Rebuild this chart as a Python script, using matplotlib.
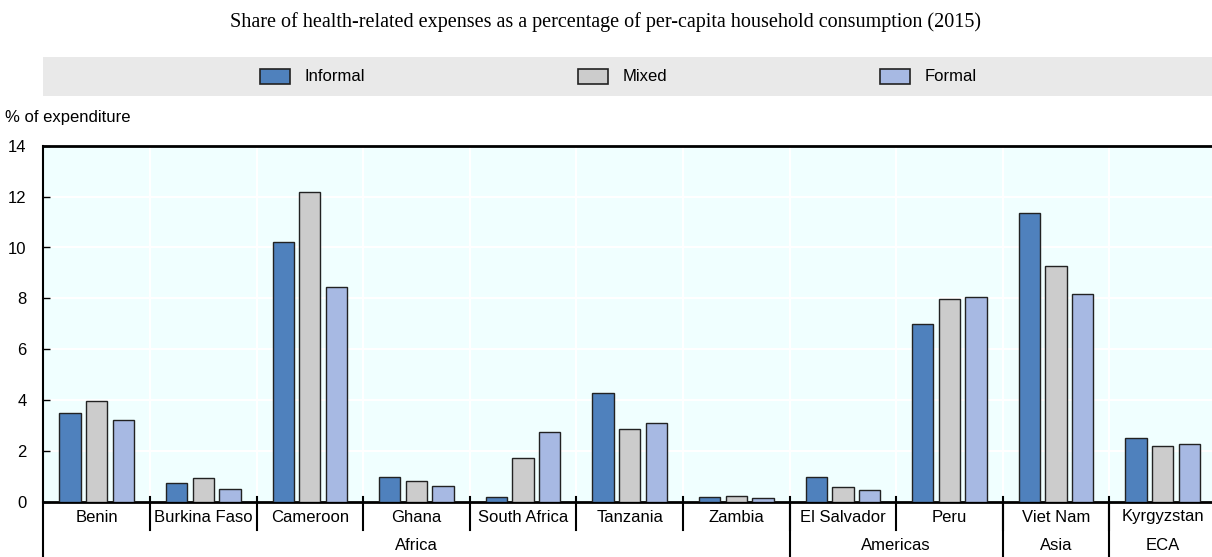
import matplotlib
matplotlib.use("Agg")
import matplotlib.pyplot as plt
from matplotlib.patches import Rectangle
from matplotlib.lines import Line2D
import numpy as np

countries = ["Benin", "Burkina Faso", "Cameroon", "Ghana", "South Africa", "Tanzania",
             "Zambia", "El Salvador", "Peru", "Viet Nam", "Kyrgyzstan"]
regions = ["Africa", "Americas", "Asia", "ECA"]
region_sizes = [7, 2, 1, 1]
informal = [3.50, 0.76, 10.20, 0.98, 0.18, 4.27, 0.20, 0.98, 7.00, 11.37, 2.50]
mixed = [3.96, 0.96, 12.18, 0.81, 1.74, 2.88, 0.22, 0.58, 7.99, 9.27, 2.21]
formal = [3.23, 0.52, 8.44, 0.62, 2.74, 3.12, 0.17, 0.47, 8.07, 8.17, 2.29]
series_names = ["Informal", "Mixed", "Formal"]
yticks = [0, 2, 4, 6, 8, 10, 12, 14]

colors = ["#4F81BD", "#CCCCCC", "#A7B9E3"]
W, H = 1212, 557
fig = plt.figure(figsize=(W / 100, H / 100), dpi=100)
plt.rcParams['font.family'] = ['Liberation Sans', 'DejaVu Sans']

ax_l, ax_r, ax_b, ax_t = 43.3, 1216, 502, 145.7
ax = fig.add_axes([ax_l / W, (H - ax_b) / H, (ax_r - ax_l) / W, (ax_b - ax_t) / H])
ax.set_facecolor("#F0FFFF")
n = len(countries)
x = np.arange(n)
bw = 0.2
for i, (vals, c) in enumerate(zip([informal, mixed, formal], colors)):
    ax.bar(x + (i - 1) * 0.25, vals, width=bw, color=c, edgecolor="#222222", linewidth=1.0, zorder=3)

ax.set_xlim(-0.5, n - 0.5)
ax.set_ylim(0, 14)
ax.set_yticks(yticks)
ax.set_yticklabels([str(t) for t in yticks], fontsize=12)
ax.tick_params(axis='y', direction='in', length=5, width=1, pad=12, color='black')
ax.set_xticks([])
for t in yticks[1:-1]:
    ax.axhline(t, color='white', lw=1.5, zorder=1)
for b in np.arange(0.5, n - 0.5, 1):
    ax.axvline(b, color='white', lw=1.5, zorder=1)
ax.spines['right'].set_visible(False)
ax.spines['top'].set_linewidth(2)
ax.spines['bottom'].set_linewidth(2)
ax.spines['left'].set_linewidth(1.5)
for s in ['top', 'bottom', 'left']:
    ax.spines[s].set_color('black')

# x-axis labels
pxh = 1.0 / (ax_b - ax_t)  # axes fraction per pixel
trans = ax.get_xaxis_transform()
for i, c in enumerate(countries):
    ax.text(i, -15 * pxh, c, ha='center', va='center', fontsize=12, transform=trans, clip_on=False)
# country separators
for b in np.arange(0.5, n - 0.5, 1):
    ax.add_line(Line2D([b, b], [5 * pxh, -28 * pxh], transform=trans, color='black', lw=1.5, clip_on=False))
# region labels and separators
start = 0
bounds = [-0.5]
for r, sz in zip(regions, region_sizes):
    center = start + (sz - 1) / 2
    ax.text(center, -43 * pxh, r, ha='center', va='center', fontsize=12, transform=trans, clip_on=False)
    start += sz
    bounds.append(start - 0.5)
for b in bounds[:-1]:
    ax.add_line(Line2D([b, b], [0, -60 * pxh], transform=trans, color='black', lw=1.5, clip_on=False))

# y-axis label
fig.text(5 / W, 1 - 118 / H, "% of expenditure", fontsize=12, ha='left', va='center')

# title
fig.text(0.5, 1 - 22 / H, "Share of health-related expenses as a percentage of per-capita household consumption (2015)",
         fontsize=14.5, ha='center', va='center', family=['Liberation Serif', 'DejaVu Serif'])

# legend band
fig.patches.append(Rectangle((43 / W, 1 - 95.7 / H), (1212 - 43) / W, (95.7 - 57) / H,
                             transform=fig.transFigure, facecolor='#E9E9E9', edgecolor='none', zorder=0))
patch_x = [260, 578, 880]
for px_, name, c in zip(patch_x, series_names, colors):
    fig.patches.append(Rectangle((px_ / W, 1 - 84 / H), 30 / W, 15 / H, transform=fig.transFigure,
                                 facecolor=c, edgecolor='#222222', linewidth=1.2, zorder=2))
    fig.text((px_ + 45) / W, 1 - 76.5 / H, name, fontsize=12, ha='left', va='center')

fig.savefig("out.png", dpi=100)
